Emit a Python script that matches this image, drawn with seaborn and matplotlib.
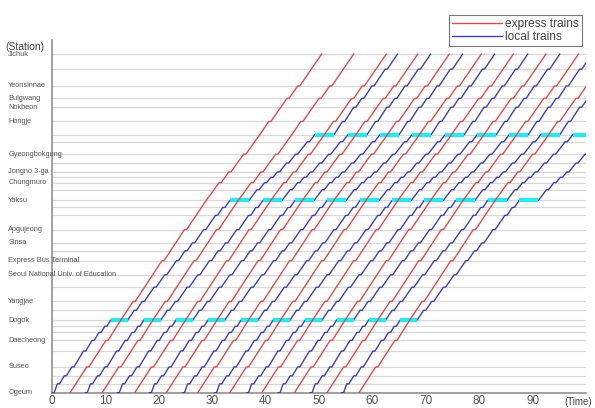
import numpy as np
import pandas as pd
import matplotlib
matplotlib.use("Agg")
import matplotlib.pyplot as plt
from matplotlib.lines import Line2D
import seaborn as sns

# ---------------- data ----------------
stations = ["Ogeum", "Police Hospital", "Garak Market", "Suseo", "Irwon", "Daecheong",
            "Hangnyeoul", "Daechi", "Dogok", "Maebong", "Yangjae", "Nambu Bus Terminal",
            "Seoul National Univ. of Education", "Express Bus Terminal", "Jamwon", "Sinsa",
            "Apgujeong", "Oksu", "Geumho", "Yaksu", "Dongguk Univ.", "Chungmuro",
            "Euljiro 3-ga", "Jongno 3-ga", "Anguk", "Gyeongbokgung", "Dongnimmun",
            "Muakjae", "Hongje", "Nokbeon", "Bulgwang", "Yeonsinnae", "Gupabal", "Jichuk"]
station_km = [0.0, 1.0, 1.9, 2.9, 4.7, 5.9, 6.8, 7.5, 8.2, 9.3, 10.3, 11.9, 13.3, 14.9,
              16.0, 16.9, 18.4, 20.0, 20.9, 21.7, 22.9, 23.7, 24.3, 24.9, 25.9, 26.9,
              28.3, 29.1, 30.6, 32.2, 33.2, 34.6, 36.5, 38.2]
labeled_stations = ["Ogeum", "Suseo", "Daecheong", "Dogok", "Yangjae",
                    "Seoul National Univ. of Education", "Express Bus Terminal", "Sinsa",
                    "Apgujeong", "Yaksu", "Chungmuro", "Jongno 3-ga", "Gyeongbokgung",
                    "Hongje", "Nokbeon", "Bulgwang", "Yeonsinnae", "Jichuk"]

# local trains: arrival offset (min) at each station and dwell (min)
local_arr = [0.0, 1.0, 2.3, 3.7, 5.9, 7.5, 8.8, 9.9, 11.0, 15.4, 16.9, 19.1, 21.1, 23.3,
             24.9, 26.3, 28.4, 30.6, 32.0, 33.3, 38.4, 39.8, 41.0, 42.2, 43.9, 45.6,
             47.8, 49.2, 54.4, 56.5, 58.0, 59.9, 62.4, 64.7]
local_dwell = [0.4, 0.4, 0.4, 0.4, 0.4, 0.4, 0.4, 0.4, 3.2, 0.4, 0.4, 0.4, 0.4, 0.4,
               0.4, 0.4, 0.4, 0.4, 0.4, 3.6, 0.4, 0.4, 0.4, 0.4, 0.4, 0.4,
               0.4, 3.6, 0.4, 0.4, 0.4, 0.4, 0.4, 0.0]
wait_stations = ["Dogok", "Yaksu", "Muakjae"]

# express trains: stops, arrival offsets, dwell
express_stops = ["Ogeum", "Suseo", "Daecheong", "Dogok", "Yangjae", "Express Bus Terminal",
                 "Apgujeong", "Yaksu", "Chungmuro", "Jongno 3-ga", "Gyeongbokgung",
                 "Muakjae", "Hongje", "Bulgwang", "Yeonsinnae", "Jichuk"]
express_arr = [0.0, 3.1, 6.7, 9.5, 11.8, 17.2, 21.4, 25.5, 27.9, 29.7, 32.5, 35.5,
               37.2, 40.6, 42.6, 47.1]
express_dwell = [0.0, 0.4, 0.4, 0.0, 0.4, 0.4, 0.4, 0.0, 0.4, 0.4, 0.4, 0.0,
                 0.4, 0.4, 0.4, 0.0]

local_departures = [0.0, 6.2, 12.2, 18.2, 24.4, 30.4, 36.4, 42.3, 48.3, 54.2]
express_departures = [3.4, 9.4, 15.5, 21.4, 27.3, 33.3, 39.3, 45.4, 51.5, 57.5]

x_ticks = [0, 10, 20, 30, 40, 50, 60, 70, 80, 90]

# ---------------- build trajectories ----------------
km_of = dict(zip(stations, station_km))
rows = []
waits = []
for n, d in enumerate(local_departures):
    for s, a, w in zip(stations, local_arr, local_dwell):
        rows.append(dict(t=d + a, km=km_of[s], kind="local trains", train=f"L{n}"))
        if w > 0:
            rows.append(dict(t=d + a + w, km=km_of[s], kind="local trains", train=f"L{n}"))
        if s in wait_stations:
            waits.append((d + a, d + a + w, km_of[s]))
for n, d in enumerate(express_departures):
    for s, a, w in zip(express_stops, express_arr, express_dwell):
        rows.append(dict(t=d + a, km=km_of[s], kind="express trains", train=f"E{n}"))
        if w > 0:
            rows.append(dict(t=d + a + w, km=km_of[s], kind="express trains", train=f"E{n}"))
df = pd.DataFrame(rows)

# ---------------- plot ----------------
sns.set_style("white")
plt.rcParams['font.family'] = ['Liberation Sans', 'DejaVu Sans']

RED = "#e04a4a"
BLUE = "#3e3eb8"
CYAN = "#2ce8ee"
GRID = "#d8d8d8"
AX = "#909090"

fig = plt.figure(figsize=(5.95, 4.08), dpi=100)
ax = fig.add_axes([52 / 595, 1 - 392.7 / 408, (586 - 52) / 595, (392.7 - 40) / 408])

for k in station_km:
    ax.axhline(k, color=GRID, lw=0.9, zorder=0)

sns.lineplot(data=df[df.kind == "local trains"], x="t", y="km", units="train",
             estimator=None, sort=False, color=BLUE, lw=1.0, ax=ax, legend=False, zorder=3)

for t0, t1, k in waits:
    ax.plot([t0, t1], [k, k], color=CYAN, lw=3.2, solid_capstyle="butt", zorder=3.5)

sns.lineplot(data=df[df.kind == "express trains"], x="t", y="km", units="train",
             estimator=None, sort=False, color=RED, lw=1.0, ax=ax, legend=False, zorder=4)

ax.set_xlim(0, 100)
ax.set_ylim(0, (392.7 - 40) * 0.1128)
ax.set_xlabel("")
ax.set_ylabel("")
ax.set_yticks([])
ax.set_xticks(x_ticks)
ax.set_xticklabels([str(v) for v in x_ticks], fontsize=8.5, color="#555555")
ax.tick_params(axis="x", direction="in", length=4, color=AX, pad=2)
for sp in ["top", "right"]:
    ax.spines[sp].set_visible(False)
for sp in ["left", "bottom"]:
    ax.spines[sp].set_color(AX)
    ax.spines[sp].set_linewidth(1.2)

for s in labeled_stations:
    ax.text(-0.082, km_of[s], s, transform=ax.get_yaxis_transform(), ha="left",
            va="center", fontsize=5.3, color="#555555", clip_on=False, zorder=5)

fig.text(5 / 595, 1 - 47 / 408, "(Station)", fontsize=7.5, color="#444444",
         ha="left", va="center")
fig.text(592 / 595, 1 - 402 / 408, "(Time)", fontsize=7, color="#444444",
         ha="right", va="center")

handles = [Line2D([], [], color=RED, lw=1.0), Line2D([], [], color=BLUE, lw=1.0)]
leg = fig.legend(handles, ["express trains", "local trains"], loc="upper right",
                 bbox_to_anchor=(582 / 595, 1 - 15 / 408), fontsize=8.6, frameon=True,
                 fancybox=False, edgecolor="#555555", handlelength=4.2, handletextpad=0.3,
                 borderpad=0.25, labelspacing=0.1, borderaxespad=0)
leg.get_frame().set_linewidth(0.8)
for txt in leg.get_texts():
    txt.set_color("#444444")

fig.savefig("out.png", dpi=100)
